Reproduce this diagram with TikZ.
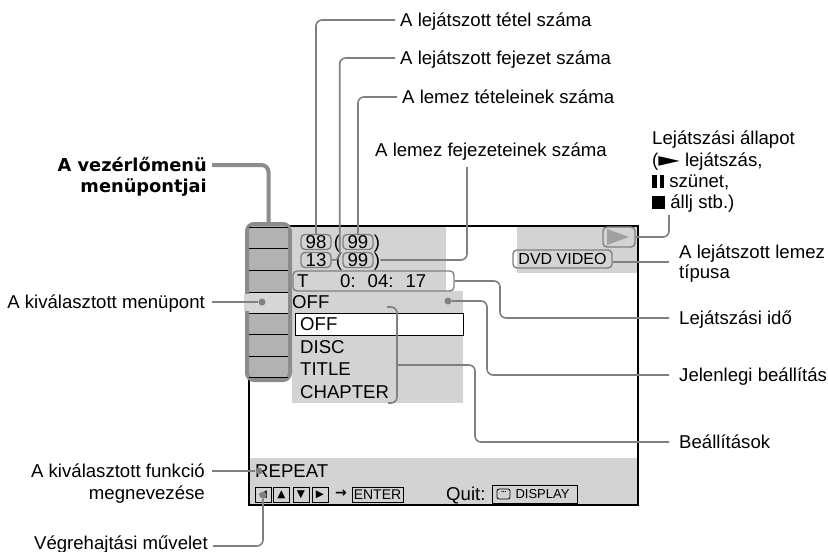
\documentclass[tikz,border=0pt]{standalone}
\usepackage{fontspec}
\setmainfont{Liberation Sans}
\newfontfamily\symfont{DejaVu Sans}
\usetikzlibrary{positioning, calc}
\definecolor{leadgray}{RGB}{128,128,128}
\definecolor{colgray}{RGB}{140,140,140}
\definecolor{osdgray}{RGB}{211,211,211}
\definecolor{cellgray}{RGB}{178,178,178}
\definecolor{cellsel}{RGB}{214,214,214}
\tikzset{
  caption/.style={font=\fontsize{18.6}{21}\selectfont, inner sep=0pt, text height=13pt, text depth=0pt},
  headcap/.style={font=\symfont\bfseries\fontsize{17.8}{20}\selectfont, inner sep=0pt, text height=13pt, text depth=0pt},
  osdtext/.style={caption, anchor=west},
  lead/.style={draw=leadgray, line width=1.6pt, rounded corners=6pt},
  thicklead/.style={draw=colgray, line width=4pt, rounded corners=7pt},
  leaddot/.style={circle, fill=leadgray, inner sep=0pt, minimum size=7pt},
  fieldbox/.style={draw=leadgray, line width=1.4pt, rounded corners=4pt, inner sep=0pt, font=\fontsize{18.6}{18}\selectfont},
  keybox/.style={draw=black, line width=0.8pt, inner sep=0pt, minimum height=15pt, font=\fontsize{14}{14}\selectfont},
  keysym/.style={keybox, minimum width=16pt, font=\symfont\fontsize{10.5}{10}\selectfont}
}
\begin{document}
\begin{tikzpicture}[x=1pt, y=-1pt]
\useasboundingbox (0,0) rectangle (828,552);

% screen areas
\fill[osdgray] (292,227) rectangle (446,291);
\fill[osdgray] (292,291) rectangle (463,403);
\fill[osdgray] (517,227) rectangle (637,273);
\fill[osdgray] (249,458) rectangle (638,505);
\draw[line width=2pt] (249,226) rectangle (638,505);

% control menu column
\fill[cellgray] (249,226) rectangle (288,378);
\fill[cellsel] (249,292) rectangle (288,313);
\draw[colgray, line width=4pt, rounded corners=7pt] (247,224) rectangle (290,380);
\fill[cellsel] (244,294) rectangle (250,311);
\foreach \y in {227,248,270,292,313,334,356,377}
  \draw[line width=1pt] (249,\y) -- (288,\y);
\coordinate (coltop) at (268.5,222);

% title / chapter numbers
\node[fieldbox, minimum width=30pt, minimum height=15pt] (t98) at (316,242) {98};
\node[caption, font=\fontsize{18.6}{18}\selectfont] (p1) at (337,242) {(};
\node[fieldbox, minimum width=30pt, minimum height=15pt] (t99a) at (358,242) {99};
\node[caption, font=\fontsize{18.6}{18}\selectfont] (p2) at (377,242) {)};
\node[fieldbox, minimum width=30pt, minimum height=15pt] (t13) at (316,260) {13};
\node[caption, font=\fontsize{18.6}{18}\selectfont] (p3) at (339,260) {(};
\node[fieldbox, minimum width=30pt, minimum height=15pt] (t99b) at (358,260) {99};
\node[caption, font=\fontsize{18.6}{18}\selectfont] (p4) at (377,260) {)};

% time
\node[fieldbox, minimum width=161pt, minimum height=20pt] (tbox) at (373.5,281) {};
\node[osdtext] (tT) at (297,281) {T};
\node[osdtext] (ttime) at (340,281) {0:\hspace{12pt}04:\hspace{12pt}17};

% settings
\node[osdtext] (cur) at (292,302) {OFF};
\node[leaddot] (d2) at (448,301) {};
\node[draw, fill=white, line width=1pt, inner sep=0pt, minimum width=168pt, minimum height=22pt] (selbox) at (379,324) {};
\node[osdtext] (opt1) at (300,324) {OFF};
\node[osdtext] (opt2) at (300,347) {DISC};
\node[osdtext] (opt3) at (300,369) {TITLE};
\node[osdtext] (opt4) at (300,392) {CHAPTER};
\draw[lead] (387,307) -| (397,403) -- (388,403);
\coordinate (brtip) at (397,365);

% status and disc type
\node[fieldbox, minimum width=32pt, minimum height=20pt] (play) at (619,237) {};
\fill[leadgray!75] (607,229) -- (629,237) -- (607,245) -- cycle;
\node[fieldbox, minimum width=99pt, minimum height=18pt, font=\fontsize{16}{16}\selectfont] (dvd) at (562.5,259) {DVD VIDEO};

% bottom bar
\node[osdtext] (func) at (255,471) {REPEAT};
\node[keysym] (kl) at (263,494.5) {◀};
\node[keysym] (ku) at (281.5,494.5) {▲};
\node[keysym] (kd) at (301,494.5) {▼};
\node[keysym] (kr) at (320,494.5) {▶};
\node[font=\symfont\bfseries\fontsize{14}{14}\selectfont, inner sep=0pt] (karr) at (341,494) {→};
\node[keybox, minimum width=51pt] (kent) at (377.5,494.5) {ENTER};
\node[osdtext] (quit) at (446,494) {Quit:};
\node[keybox, minimum width=85pt, minimum height=18pt, font=\fontsize{13}{13}\selectfont] (kdisp) at (534.5,494) {\hspace{16pt}DISPLAY};
\draw[line width=0.8pt, rounded corners=2pt] (497,489) rectangle (510,499);
\foreach \x in {502,503.8,505.6} \fill (\x,491.5) circle (0.6);
\node[leaddot] (d3) at (259,471) {};
\node[leaddot] (d4) at (263,495) {};
\node[leaddot] (d1) at (262,302) {};

% captions left
\node[headcap, anchor=east] (hd1) at (207,165) {A vezérlőmenü};
\node[headcap, anchor=east] (hd2) at (207,186) {menüpontjai};
\node[caption, anchor=east] (lsel) at (205,302) {A kiválasztott menüpont};
\node[caption, anchor=east] (lfun1) at (205,471) {A kiválasztott funkció};
\node[caption, anchor=east] (lfun2) at (205,493) {megnevezése};
\node[caption, anchor=east] (lexe) at (208,543) {Végrehajtási művelet};

% captions top
\node[caption, anchor=west] (tl1) at (400,20) {A lejátszott tétel száma};
\node[caption, anchor=west] (tl2) at (400,58) {A lejátszott fejezet száma};
\node[caption, anchor=west] (tl3) at (402,97) {A lemez tételeinek száma};
\node[caption, anchor=west] (tl4) at (375,150) {A lemez fejezeteinek száma};
\coordinate (c4) at (467,167);

% captions right
\node[caption, anchor=west] (st1) at (652,138) {Lejátszási állapot};
\node[caption, anchor=west] (st2) at (652,160) {(\scalebox{1.5}[1.05]{\symfont ►} lejátszás,};
\node[caption, anchor=west] (st3) at (652,181) {\rule{4.5pt}{13pt}\hspace{3pt}\rule{4.5pt}{13pt} szünet,};
\node[caption, anchor=west] (st4) at (652,202) {\rule{13pt}{13pt} állj stb.)};
\coordinate (s0) at (669,215);
\node[caption, anchor=west] (lr2a) at (679,252) {A lejátszott lemez};
\node[caption, anchor=west] (lr2b) at (679,272) {típusa};
\coordinate (e2) at (669,262);
\node[caption, anchor=west] (lr3) at (679,318) {Lejátszási idő};
\coordinate (b3) at (500,318);
\node[caption, anchor=west] (lr4) at (679,375) {Jelenlegi beállítás};
\coordinate (b4) at (487,375);
\node[caption, anchor=west] (lr5) at (679,442) {Beállítások};
\coordinate (b5) at (475,442);

% leaders
\draw[thicklead] ([xshift=5pt]hd1.east) -| (coltop);
\draw[lead] ([xshift=7pt]lsel.east) -- (d1);
\draw[lead] ([xshift=7pt]lfun1.east) -- (d3);
\draw[lead] ([xshift=5pt,yshift=-3pt]lexe.east) -| (d4);
\draw[lead] ([xshift=-5pt]tl1.west) -| (t98.north);
\draw[lead] ([xshift=-5pt]tl2.west) -| ([xshift=8pt]t13.east) -- (t13.east);
\draw[lead] ([xshift=-5pt]tl3.west) -| (t99a.north);
\draw[lead] (c4) |- (p4.east);
\draw[lead] (s0) |- (play.east);
\draw[lead] ([yshift=-3pt]dvd.east) -- (e2);
\draw[lead] (tbox.east) -| (b3) -- ([xshift=-10pt]lr3.west);
\draw[lead] (d2) -| (b4) -- ([xshift=-10pt]lr4.west);
\draw[lead] (brtip) -| (b5) -- ([xshift=-10pt]lr5.west);
\end{tikzpicture}
\end{document}
